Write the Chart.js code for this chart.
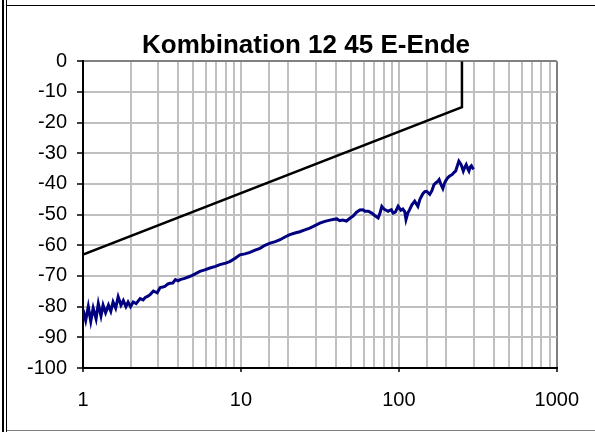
<!DOCTYPE html>
<html>
<head>
<meta charset="utf-8">
<script src="https://cdn.jsdelivr.net/npm/chart.js@4"></script>
<style>
  body { margin: 0; background: #fff; }
  #wrap { position: relative; width: 595px; height: 432px; overflow: hidden; }
  #c { position: absolute; left: 0; top: 0; }
  .ln { position: absolute; }
</style>
</head>
<body>
<div id="wrap">
  <canvas id="c" width="595" height="432"></canvas>
  <div class="ln" style="left:2px;top:0;width:2px;height:432px;background:#000"></div>
  <div class="ln" style="left:6px;top:0;width:1px;height:432px;background:#000"></div>
  <div class="ln" style="left:7px;top:5px;width:588px;height:1px;background:#000"></div>
  <div class="ln" style="left:7px;top:430px;width:588px;height:1px;background:#808080"></div>
</div>
<script>
const titleText = 'Kombination 12 45 E-Ende'

// Grenzlinie
const limitFreq = [1, 251, 251]
const limitLevel = [-63, -15, 0]

// Messkurve
const measFreq = [1.00, 1.04, 1.08, 1.12, 1.16, 1.21, 1.25, 1.30, 1.34, 1.39, 1.45, 1.50, 1.55, 1.61, 1.67, 1.74, 1.80, 1.87, 1.93, 2.00,
  2.08, 2.17, 2.30, 2.40, 2.48, 2.58, 2.67, 2.79, 2.95, 3.08, 3.2, 3.3, 3.45, 3.56, 3.7, 3.85, 4.0, 4.12, 4.4, 4.77,
  5.1, 5.5, 5.9, 6.37, 6.9, 7.36, 8.0, 8.5, 9.2, 9.85, 10.6, 11.4, 12.3, 13.2, 14.2, 15.3, 16.5, 17.7, 19, 20.4,
  22, 23.6, 25.4, 27.3, 29.4, 31.6, 34, 36.6, 39, 40.5, 42.3, 44, 46.6, 49, 51.5, 54, 56.7, 59.3, 61, 64,
  67.4, 70, 74, 76, 78, 81, 85.6, 89.7, 92, 95, 99, 103, 106, 109, 111, 114, 117, 121, 126, 132,
  136, 142, 146, 150, 157, 162, 167, 172, 177, 180, 186, 190, 194, 198, 204, 209, 218, 224, 229, 235,
  240, 248, 256, 262, 267, 273, 278, 283, 288, 293, 298]
const measLevel = [-81, -84.5, -80, -84.8, -80.5, -84, -79, -83, -79.5, -82, -79.5, -81.5, -78.5, -80.5, -76.8, -79.5, -78, -80, -78.5, -80,
  -78.5, -79, -77.4, -77.8, -77, -76.6, -76, -74.9, -75.5, -73.8, -73.6, -73.4, -72.6, -72.4, -72.3, -71.2, -71.6, -71.2, -70.8, -70.1,
  -69.4, -68.5, -68, -67.4, -66.9, -66.3, -65.8, -65.3, -64.2, -63.1, -62.8, -62.3, -61.6, -61, -60, -59.3, -58.8, -58.2, -57.3, -56.5,
  -56, -55.6, -55, -54.4, -53.6, -52.8, -52.2, -51.8, -51.5, -51.4, -52, -51.8, -52.1, -51.2, -50.4, -49.2, -48.5, -48.4, -48.9, -48.9,
  -49.5, -50.2, -51.1, -49.5, -47.3, -48.3, -48.9, -48.4, -49.5, -49.2, -47.3, -48.6, -48.2, -49, -51.6, -49.5, -48.4, -46.8, -45.6, -47.3,
  -45, -43.2, -42.5, -42.4, -43.4, -42.2, -40.2, -39.6, -39.1, -38.6, -40.5, -41.5, -40, -39, -38, -37.5, -36.9, -36.2, -35.8, -34,
  -32.6, -33.7, -35.8, -34.5, -33.7, -35, -35.8, -34.5, -34.1, -34.8, -35.2]

const xMin = 1, xMax = 1000
const yMin = -100, yMax = 0, yStep = 10

const toPoints = (xs, ys) => xs.map((x, i) => ({ x: x, y: ys[i] }))
const isDecade = (v) => Math.abs(Math.log10(v) - Math.round(Math.log10(v))) < 1e-9

const data = {
  datasets: [
    {
      data: toPoints(measFreq, measLevel),
      borderColor: '#000080',
      borderWidth: 3,
      pointRadius: 0,
      showLine: true,
      tension: 0
    },
    {
      data: toPoints(limitFreq, limitLevel),
      borderColor: '#000',
      borderWidth: 2.5,
      pointRadius: 0,
      showLine: true,
      tension: 0
    }
  ]
}

// y-Beschriftung "-100" ragt links ueber die Achse hinaus -> Clip-Bereich erweitern
const labelRoom = {
  id: 'labelRoom',
  afterLayout: (chart) => { chart.scales.y.left = 0 }
}

const options = {
  responsive: false,
  animation: false,
  layout: { padding: { left: 33, right: 16, top: 0, bottom: 0 } },
  plugins: {
    legend: { display: false },
    tooltip: { enabled: false },
    title: {
      display: true,
      text: titleText,
      color: '#000',
      font: { family: "'Liberation Sans', Arial, sans-serif", size: 26, weight: 'bold', lineHeight: 1.2 },
      padding: { top: 30, bottom: 0 }
    }
  },
  scales: {
    x: {
      type: 'logarithmic',
      min: xMin,
      max: xMax,
      afterFit: (s) => { s.height = 64 },
      border: { color: '#000', width: 2 },
      grid: {
        color: (c) => (c.tick && c.tick.value === xMax) ? '#808080' : '#c0c0c0',
        lineWidth: 2,
        tickLength: 4,
        tickColor: (c) => (c.tick && isDecade(c.tick.value)) ? '#000' : 'rgba(0,0,0,0)',
        tickWidth: 1.5
      },
      ticks: {
        autoSkip: false,
        maxRotation: 0,
        padding: 16,
        color: '#000',
        font: { family: "'Liberation Sans', Arial, sans-serif", size: 20 },
        callback: (v) => isDecade(v) ? String(Math.round(v)) : ''
      }
    },
    y: {
      min: yMin,
      max: yMax,
      afterFit: (s) => { s.width = 50 },
      border: { color: '#000', width: 2 },
      grid: {
        color: (c) => (c.tick && c.tick.value === yMax) ? '#808080' : '#c0c0c0',
        lineWidth: 2,
        tickLength: 6,
        tickColor: '#000',
        tickWidth: 1.5
      },
      ticks: {
        stepSize: yStep,
        padding: 10,
        color: '#000',
        font: { family: "'Liberation Sans', Arial, sans-serif", size: 20 }
      }
    }
  }
}

new Chart('c', { type: 'scatter', data, options, plugins: [labelRoom] })
</script>
</body>
</html>
